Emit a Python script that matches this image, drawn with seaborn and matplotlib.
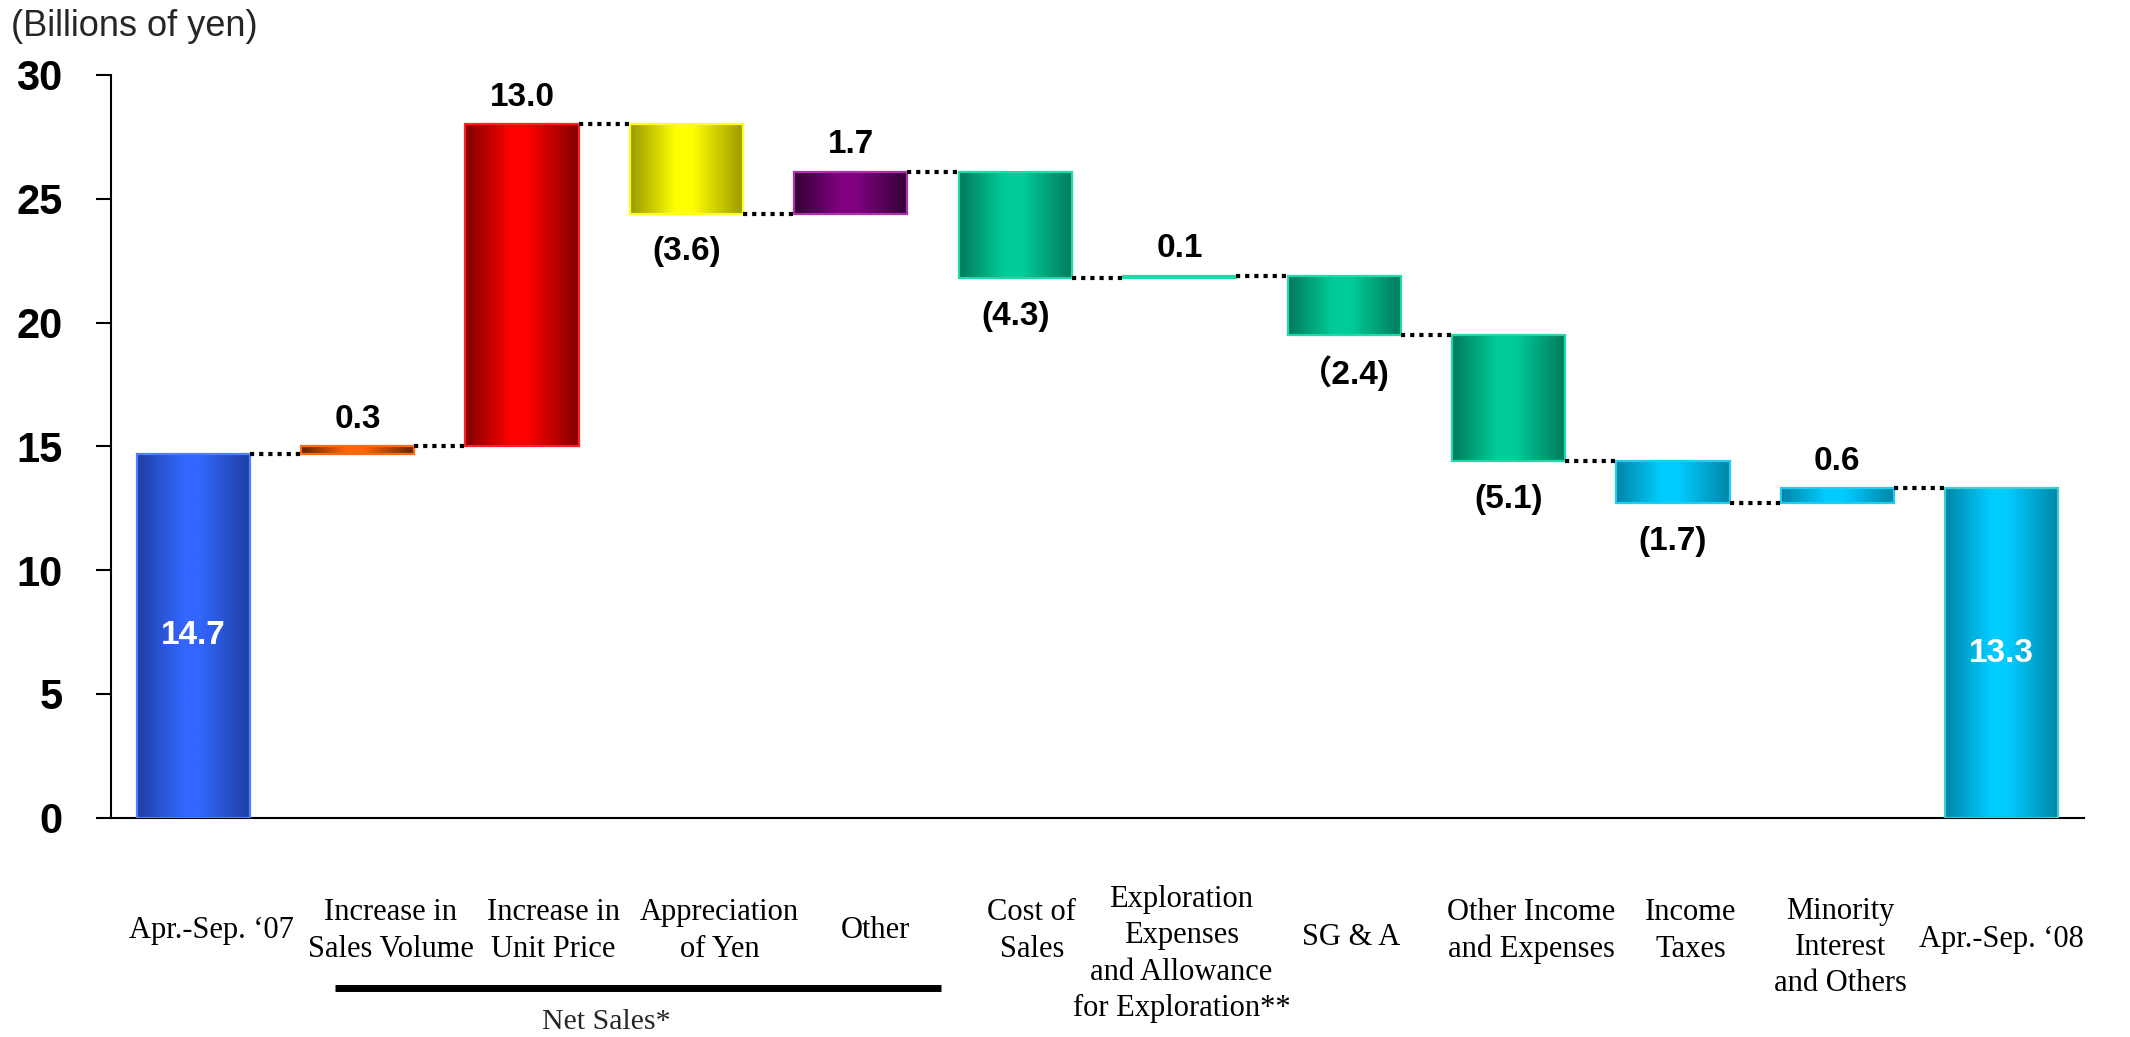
import numpy as np
import pandas as pd
import matplotlib
matplotlib.use("Agg")
import matplotlib.pyplot as plt
import seaborn as sns
from matplotlib.colors import to_rgb

# ---------------- data ----------------
categories = [
    "Apr.-Sep. \u201807",
    "Increase in\nSales Volume",
    "Increase in\nUnit Price",
    "Appreciation\nof Yen",
    "Other",
    "Cost of\nSales",
    "Exploration\nExpenses\nand Allowance\nfor Exploration**",
    "SG & A",
    "Other Income\nand Expenses",
    "Income\nTaxes",
    "Minority\nInterest\nand Others",
    "Apr.-Sep. \u201808",
]
start_value = 14.7
changes = [0.3, 13.0, -3.6, 1.7, -4.3, 0.1, -2.4, -5.1, -1.7, 0.6]
end_value = 13.3
value_labels = ["14.7", "0.3", "13.0", "(3.6)", "1.7", "(4.3)", "0.1",
                "\uff082.4)", "(5.1)", "(1.7)", "0.6", "13.3"]
group_label = "Net Sales*"
y_label = "(Billions of yen)"
y_ticks = [0, 5, 10, 15, 20, 25, 30]

# ---------------- styles ----------------
bright = ["#3366FF", "#FF6600", "#FF0000", "#FFFF00", "#800080",
          "#00CC99", "#00CC99", "#00CC99", "#00CC99",
          "#00CCFF", "#00CCFF", "#00CCFF"]
dark = ["#1F3FA0", "#5A2800", "#800000", "#999900", "#330033",
        "#007A5C", "#007A5C", "#007A5C", "#007A5C",
        "#0085A8", "#0085A8", "#0085A8"]
edges = ["#4D80FF", "#FF6A10", "#FF2020", "#FFFF20", "#B030B0",
         "#20D8A8", "#20D8A8", "#20D8A8", "#20D8A8",
         "#20CCF0", "#20CCF0", "#40CCCC"]
label_y = [-0.1525, -0.1525, -0.1525, -0.1525, -0.1525, -0.1525,
           -0.1835, -0.1620, -0.1525, -0.1525, -0.1750, -0.1640]
label_dx = [0.11, 0.20, 0.19, 0.20, 0.15, 0.10, 0.01, 0.04, 0.14, 0.11,
            0.02, 0.0]

# ---------------- derived bars ----------------
running = start_value + np.cumsum(changes)
prev = np.concatenate([[start_value], running[:-1]])
bottoms = [0.0] + list(np.minimum(prev, running)) + [0.0]
heights = [start_value] + list(np.abs(changes)) + [end_value]
levels = [start_value] + list(running)  # level after each bar (for connectors)

df = pd.DataFrame({"item": categories, "height": heights})

sns.set_theme(style="white")
plt.rcParams["font.family"] = ["Liberation Sans", "DejaVu Sans"]

fig = plt.figure(figsize=(21.3, 10.37), dpi=100)
ax = fig.add_axes([0.0521, 0.2115, 0.9263, 0.7162])

sns.barplot(data=df, x="item", y="height", order=categories, width=0.688,
            color="white", saturation=1, ax=ax)

patches = list(ax.patches)
t = np.linspace(0, 1, 256)
for i, (p, b) in enumerate(zip(patches, bottoms)):
    p.set_y(b)
    p.set_facecolor("none")
    p.set_edgecolor(edges[i])
    p.set_linewidth(1.6)
    p.set_zorder(3)
    d = np.array(to_rgb(dark[i]))
    br = np.array(to_rgb(bright[i]))
    w = np.interp(t, [0, 0.40, 0.55, 1.0], [0, 1, 1, 0])
    grad = d[None, :] * (1 - w[:, None]) + br[None, :] * w[:, None]
    x0, wd = p.get_x(), p.get_width()
    y0, h = p.get_y(), p.get_height()
    im = ax.imshow(grad[None, :, :], extent=[x0, x0 + wd, y0, y0 + h],
                   aspect="auto", zorder=2, interpolation="bilinear")
    im.set_clip_path(p)

# connectors
for i in range(len(patches) - 1):
    xa = patches[i].get_x() + patches[i].get_width()
    xb = patches[i + 1].get_x()
    ax.plot([xa, xb], [levels[i], levels[i]], color="black", lw=3.0,
            ls=(0, (1, 1.2)), zorder=4, solid_capstyle="butt",
            dash_capstyle="butt")

# value labels
lab_font = dict(fontsize=24, fontweight="bold",
                family=["Liberation Sans", "Noto Sans CJK JP", "DejaVu Sans"])
for i, p in enumerate(patches):
    xc = p.get_x() + p.get_width() / 2
    if i == 0 or i == len(patches) - 1:
        ax.text(xc, p.get_y() + p.get_height() / 2, value_labels[i],
                ha="center", va="center", color="white", zorder=5, **lab_font)
    else:
        d = changes[i - 1]
        if d >= 0:
            y = p.get_y() + p.get_height() + 1.1
        else:
            y = p.get_y() - 1.55
        ax.text(xc, y, value_labels[i], ha="center", va="center",
                color="black", zorder=5, **lab_font)

ax.set_xlim(-0.5, 11.5)
ax.set_ylim(0, 30)
ax.set_yticks(y_ticks)
ax.set_yticklabels([str(v) for v in y_ticks], fontsize=30, fontweight="bold")
ax.set_xticks(range(len(categories)))
ax.set_xticklabels([""] * len(categories))
ax.tick_params(axis="x", length=0)
ax.tick_params(axis="y", length=11, width=1.5, pad=24, colors="black",
               direction="out", left=True)
ax.set_xlabel("")
ax.set_ylabel("")
for s in ["top", "right"]:
    ax.spines[s].set_visible(False)
for s in ["left", "bottom"]:
    ax.spines[s].set_color("black")
    ax.spines[s].set_linewidth(1.5)
ax.grid(False)

# category labels
xt = ax.get_xaxis_transform()
for i, c in enumerate(categories):
    ax.text(i + label_dx[i], label_y[i], c, transform=xt, ha="center",
            va="center", fontsize=22, family=["Liberation Serif", "DejaVu Serif"],
            linespacing=1.33, color="black", clip_on=False)

# group bar under Net Sales items
ax.plot([0.862, 4.55], [-0.2293, -0.2293], transform=xt, color="black",
        lw=5, solid_capstyle="butt", clip_on=False)
ax.text(2.51, -0.2757, group_label, transform=xt, ha="center", va="center",
        fontsize=21.5, family=["Liberation Serif", "DejaVu Serif"], clip_on=False)

fig.text(0.005, 0.974, y_label, ha="left", va="center", fontsize=26,
         family=["Liberation Sans", "DejaVu Sans"])

fig.savefig("out.png", dpi=100)
